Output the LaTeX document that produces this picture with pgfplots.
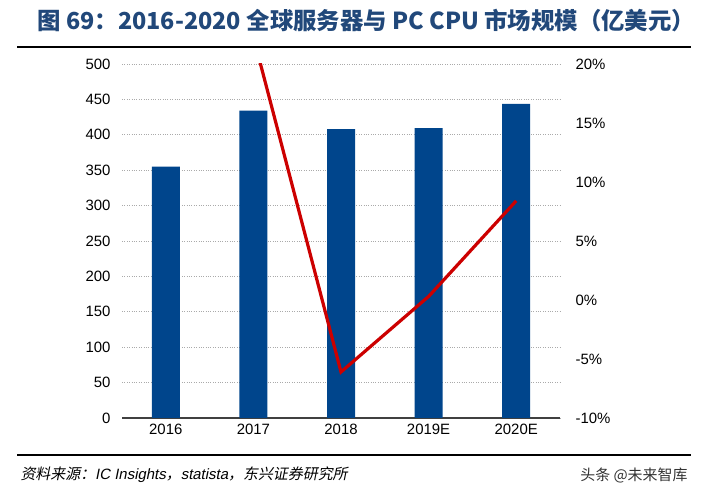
\documentclass[border=0pt]{standalone}
\usepackage{pgfplots}
\pgfplotsset{compat=1.18}
\usepackage{fontspec}
\setmainfont{Liberation Sans}
\newfontfamily\cjk{Noto Sans CJK SC}
\newfontfamily\cjkb{Noto Sans CJK SC Bold}
\newfontfamily\cjkit[FakeSlant=0.2]{Noto Sans CJK SC}
\newfontfamily\latit[FakeSlant=0.2]{Liberation Sans}
\definecolor{barblue}{RGB}{0,69,140}
\definecolor{linered}{RGB}{204,0,0}
\definecolor{titleblue}{RGB}{33,72,122}
\definecolor{gridgray}{RGB}{170,170,170}

\begin{document}
\begin{tikzpicture}[x=1bp,y=1bp]
\path (0,0) rectangle (708,494);

% title and rules
\node[anchor=west,text=titleblue,font=\fontsize{23.5}{26}\selectfont\bfseries] at (34,473)
  {\cjkb 图 69：2016-2020 全球服务器与 PC CPU 市场规模（亿美元）};
\draw[line width=2bp] (17,447) -- (691,447);
\draw[line width=2bp] (17,39) -- (691,39);
\node[anchor=west,font=\fontsize{15}{18}\selectfont] at (17,19)
  {\cjkit 资料来源：\latit IC Insights\cjkit ，\latit statista\cjkit ，东兴证券研究所};
\node[anchor=east,text=black!80,font=\fontsize{15}{18}\selectfont] at (691,19)
  {\cjk 头条 @未来智库};

\begin{axis}[
    at={(122bp,76bp)}, anchor=south west,
    scale only axis, width=438bp, height=354bp,
    xmin=-0.5, xmax=4.5,
    ymin=0, ymax=500,
    xtick={0,1,2,3,4},
    xticklabels={2016,2017,2018,2019E,2020E},
    ytick={0,50,...,500},
    axis x line*=bottom,
    axis y line*=left,
    y axis line style={draw=none},
    x axis line style={draw=black!75, line width=1.2bp},
    major tick length=0pt,
    ymajorgrids=true,
    grid style={gridgray, dotted, line width=0.9bp},
    tick label style={font=\fontsize{15}{18}\selectfont},
    /pgf/number format/assume math mode=true,
    yticklabel style={xshift=-8bp},
    xticklabel style={yshift=-3bp},
]
\addplot[ybar, bar width=28bp, fill=barblue, draw=none]
    coordinates {(0,355) (1,434) (2,408) (3,409.5) (4,443.5)};
\end{axis}

\begin{axis}[
    at={(122bp,76bp)}, anchor=south west,
    scale only axis, width=438bp, height=354bp,
    xmin=-0.5, xmax=4.5,
    ymin=-10, ymax=20,
    ytick={-10,-5,0,5,10,15,20},
    axis x line=none,
    axis y line*=right,
    y axis line style={draw=none},
    major tick length=0pt,
    tick label style={font=\fontsize{15}{18}\selectfont},
    /pgf/number format/assume math mode=true,
    yticklabel={\pgfmathprintnumber{\tick}\%},
    yticklabel style={xshift=12bp},
]
\addplot[linered, line width=3.2bp, mark=none]
    coordinates {(1,22.3) (2,-6.1) (3,0.3) (4,8.4)};
\end{axis}
\end{tikzpicture}
\end{document}
